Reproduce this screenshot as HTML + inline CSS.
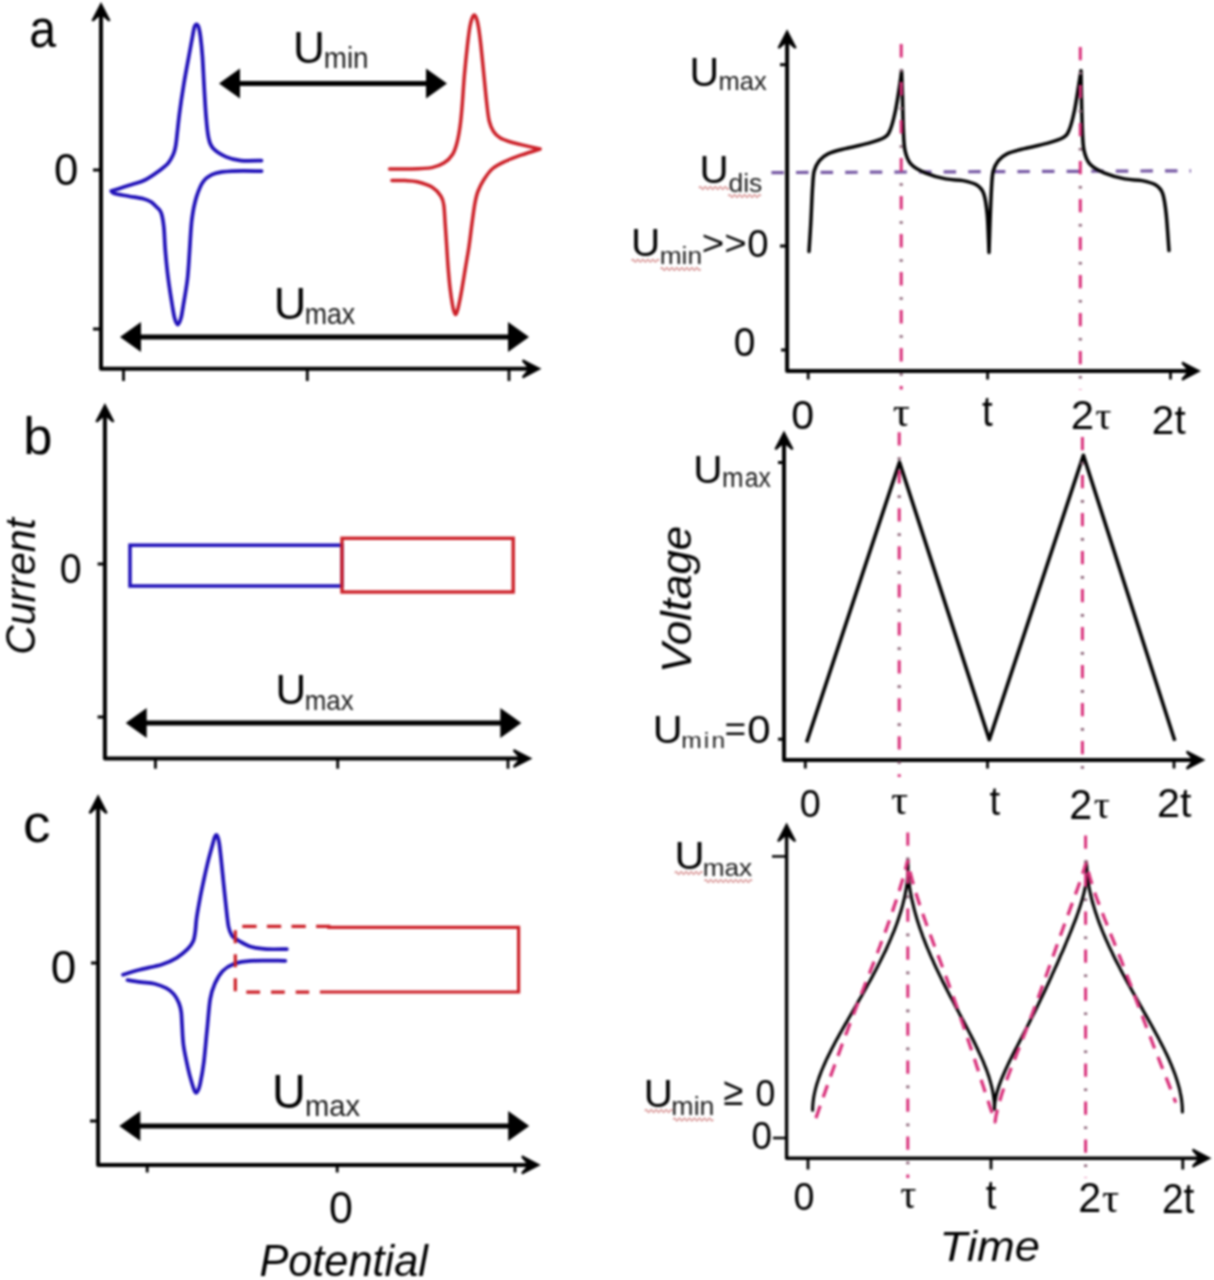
<!DOCTYPE html>
<html><head><meta charset="utf-8"><title>figure</title>
<style>html,body{margin:0;padding:0;background:#fff;}body{width:1214px;height:1280px;overflow:hidden;font-family:"Liberation Sans",sans-serif;}svg{display:block;filter:blur(1px);}</style>
</head><body>
<svg width="1214" height="1280" viewBox="0 0 1214 1280" font-family="Liberation Sans, sans-serif">
<path d="M101.0,8.5 L101.0,368.8 L535.0,368.8" fill="none" stroke="#000" stroke-width="4" stroke-linecap="butt" stroke-linejoin="round"/>
<polygon points="101.0,2.0 91.4,20.5 93.4,21.6 101.0,15.0 108.6,21.6 110.6,20.5" fill="#000"/>
<polygon points="541.5,368.8 523.0,359.2 521.9,361.2 528.5,368.8 521.9,376.4 523.0,378.4" fill="#000"/>
<line x1="93.0" y1="170.0" x2="101.0" y2="170.0" stroke="#000" stroke-width="3" />
<line x1="93.0" y1="329.0" x2="101.0" y2="329.0" stroke="#000" stroke-width="3" />
<line x1="123.5" y1="368.8" x2="123.5" y2="381.0" stroke="#000" stroke-width="2.8" />
<line x1="307.3" y1="368.8" x2="307.3" y2="381.0" stroke="#000" stroke-width="2.8" />
<line x1="509.0" y1="368.8" x2="509.0" y2="381.0" stroke="#000" stroke-width="2.8" />
<line x1="238.0" y1="83.5" x2="428.0" y2="83.5" stroke="#000" stroke-width="5" />
<polygon points="219.0,83.5 240.0,68.5 240.0,98.5" fill="#000"/>
<polygon points="447.0,83.5 426.0,68.5 426.0,98.5" fill="#000"/>
<line x1="139.0" y1="337.0" x2="510.0" y2="337.0" stroke="#000" stroke-width="5" />
<polygon points="120.0,337.0 141.0,322.0 141.0,352.0" fill="#000"/>
<polygon points="529.0,337.0 508.0,322.0 508.0,352.0" fill="#000"/>
<path d="M261.5,160.6 C258.1,160.6 246.9,161.2 241.0,160.6 C235.1,160.0 230.8,159.0 226.1,156.9 C221.4,154.8 215.7,151.2 212.8,148.0 C209.9,144.8 209.7,143.0 208.6,138.0 C207.5,133.0 206.9,126.7 206.2,118.0 C205.4,109.3 204.7,96.3 204.1,86.0 C203.5,75.7 203.0,64.3 202.4,56.0 C201.8,47.7 201.0,40.8 200.4,36.0 C199.8,31.2 199.2,28.9 198.6,27.0 C197.9,25.1 197.2,24.3 196.5,24.3 C195.8,24.3 195.1,25.1 194.4,27.0 C193.8,28.9 193.5,31.2 192.6,36.0 C191.7,40.8 190.5,47.5 189.0,55.5 C187.5,63.5 185.4,74.5 183.8,84.2 C182.2,93.9 180.6,104.5 179.4,113.9 C178.2,123.3 177.1,134.8 176.4,140.6 C175.7,146.4 175.6,146.6 175.0,149.0 C174.4,151.4 174.2,152.6 173.0,155.0 C171.8,157.4 170.6,160.4 168.1,163.2 C165.6,165.9 162.0,168.7 158.2,171.5 C154.3,174.3 149.4,177.8 145.0,180.0 C140.6,182.2 135.7,183.3 132.0,184.5 C128.3,185.7 126.6,186.2 123.1,187.3 C119.6,188.4 113.2,190.4 111.2,191.0 L111.2,191.0 C111.7,191.4 111.5,192.7 114.4,193.6 C117.3,194.5 124.0,195.3 128.8,196.2 C133.6,197.1 139.7,197.9 143.3,198.8 C147.0,199.7 148.5,200.3 150.7,201.7 C152.9,203.0 154.8,205.1 156.5,206.9 C158.2,208.7 159.9,209.4 161.1,212.7 C162.3,216.0 163.1,220.6 163.8,226.7 C164.5,232.8 164.5,240.3 165.2,249.0 C165.9,257.6 167.0,269.3 168.2,278.6 C169.4,287.9 171.1,298.4 172.2,305.0 C173.3,311.6 173.7,314.7 174.6,318.0 C175.5,321.3 176.7,324.6 177.8,324.6 C178.9,324.6 180.1,321.1 181.0,318.0 C181.9,314.9 182.1,312.6 183.2,306.0 C184.3,299.4 186.4,288.1 187.5,278.6 C188.6,269.1 189.0,258.9 189.7,249.0 C190.4,239.1 190.8,228.0 191.9,219.3 C193.0,210.7 194.4,203.5 196.4,197.1 C198.4,190.7 200.6,184.8 203.8,180.8 C207.0,176.8 210.8,174.9 215.7,173.3 C220.6,171.7 225.8,171.5 233.5,171.1 C241.2,170.7 256.9,171.1 261.6,171.1" fill="none" stroke="#1e0fb8" stroke-width="3.7" stroke-linejoin="round" stroke-linecap="round" />
<path d="M389.6,169.0 C393.0,169.0 402.6,169.2 409.7,169.0 C416.8,168.8 426.2,168.6 431.9,167.6 C437.6,166.6 440.3,165.3 443.8,163.1 C447.3,160.9 450.5,157.7 452.7,154.2 C454.9,150.7 455.9,147.0 457.1,142.3 C458.3,137.6 459.2,132.4 460.1,126.0 C461.0,119.6 461.6,112.5 462.3,103.8 C463.0,95.1 463.6,84.0 464.5,74.1 C465.4,64.2 466.6,52.5 467.5,44.5 C468.4,36.5 469.2,30.4 470.0,26.0 C470.8,21.6 471.5,19.8 472.2,18.0 C472.9,16.2 473.5,15.0 474.2,15.0 C474.9,15.0 475.6,16.2 476.3,18.0 C477.0,19.8 477.6,21.6 478.3,26.0 C479.1,30.4 479.9,36.5 480.8,44.5 C481.7,52.5 482.8,64.2 483.8,74.1 C484.8,84.0 485.9,96.0 486.8,103.8 C487.7,111.6 488.1,116.4 489.2,121.0 C490.3,125.6 491.7,128.7 493.5,131.5 C495.3,134.3 497.4,136.1 500.0,137.8 C502.6,139.5 505.5,140.4 509.0,141.5 C512.5,142.6 515.7,143.3 520.9,144.6 C526.1,145.8 536.9,148.3 540.1,149.0 L540.1,149.0 C536.9,150.0 526.6,153.2 520.9,155.2 C515.2,157.2 510.7,158.8 506.0,161.0 C501.3,163.2 496.4,165.4 492.7,168.5 C489.0,171.6 486.3,175.9 483.8,179.7 C481.3,183.5 479.4,187.6 477.9,191.5 C476.4,195.4 475.9,198.0 474.9,203.4 C473.9,208.8 472.9,216.9 471.9,224.1 C470.9,231.3 470.1,239.0 469.0,246.4 C467.9,253.8 466.5,261.2 465.3,268.6 C464.1,276.0 462.7,284.7 461.6,290.9 C460.5,297.1 459.4,302.5 458.6,306.0 C457.8,309.5 457.5,310.6 457.0,312.0 C456.5,313.4 456.1,314.6 455.6,314.6 C455.1,314.6 454.7,313.4 454.2,312.0 C453.7,310.6 453.3,309.5 452.7,306.0 C452.1,302.5 451.1,297.1 450.4,290.9 C449.6,284.7 448.8,276.0 448.2,268.6 C447.6,261.2 447.2,253.8 446.7,246.4 C446.2,239.0 445.7,231.0 445.2,224.1 C444.7,217.2 444.5,209.6 443.8,204.9 C443.1,200.2 442.8,199.0 440.8,196.0 C438.8,193.0 435.8,189.5 431.9,187.1 C427.9,184.7 421.6,182.9 417.1,181.8 C412.6,180.7 409.2,180.8 405.0,180.6 C400.8,180.4 394.1,180.4 391.9,180.4" fill="none" stroke="#cc1f27" stroke-width="3.5" stroke-linejoin="round" stroke-linecap="round" />
<path d="M104.9,409.5 L104.9,758.5 L526.0,758.5" fill="none" stroke="#000" stroke-width="4" stroke-linecap="butt" stroke-linejoin="round"/>
<polygon points="104.9,403.0 95.3,421.5 97.3,422.6 104.9,416.0 112.5,422.6 114.5,421.5" fill="#000"/>
<polygon points="532.5,758.5 514.0,748.9 512.9,750.9 519.5,758.5 512.9,766.1 514.0,768.1" fill="#000"/>
<line x1="97.6" y1="564.0" x2="105.5" y2="564.0" stroke="#000" stroke-width="3" />
<line x1="97.6" y1="717.0" x2="105.5" y2="717.0" stroke="#000" stroke-width="3" />
<line x1="155.4" y1="758.5" x2="155.4" y2="768.7" stroke="#000" stroke-width="2.8" />
<line x1="337.7" y1="758.5" x2="337.7" y2="768.7" stroke="#000" stroke-width="2.8" />
<line x1="508.0" y1="758.5" x2="508.0" y2="768.7" stroke="#000" stroke-width="2.8" />
<rect x="130" y="545.2" width="212" height="40.8" fill="none" stroke="#1e0fb8" stroke-width="3.5"/>
<rect x="342" y="538.3" width="171.2" height="53.7" fill="none" stroke="#cc1f27" stroke-width="3.4"/>
<line x1="144.7" y1="723.0" x2="502.3" y2="723.0" stroke="#000" stroke-width="5" />
<polygon points="125.7,723.0 146.7,708.0 146.7,738.0" fill="#000"/>
<polygon points="521.3,723.0 500.3,708.0 500.3,738.0" fill="#000"/>
<path d="M98.1,800.8 L98.1,1164.9 L534.3,1164.9" fill="none" stroke="#000" stroke-width="4" stroke-linecap="butt" stroke-linejoin="round"/>
<polygon points="98.1,794.3 88.5,812.8 90.5,813.9 98.1,807.3 105.7,813.9 107.7,812.8" fill="#000"/>
<polygon points="540.8,1164.9 522.3,1155.3 521.2,1157.3 527.8,1164.9 521.2,1172.5 522.3,1174.5" fill="#000"/>
<line x1="91.0" y1="963.0" x2="98.0" y2="963.0" stroke="#000" stroke-width="3" />
<line x1="90.0" y1="1121.0" x2="98.0" y2="1121.0" stroke="#000" stroke-width="3" />
<line x1="147.2" y1="1164.9" x2="147.2" y2="1172.5" stroke="#000" stroke-width="2.8" />
<line x1="337.2" y1="1164.9" x2="337.2" y2="1172.5" stroke="#000" stroke-width="2.8" />
<line x1="515.0" y1="1164.9" x2="515.0" y2="1172.5" stroke="#000" stroke-width="2.8" />
<line x1="138.3" y1="1126.0" x2="510.2" y2="1126.0" stroke="#000" stroke-width="5" />
<polygon points="119.3,1126.0 140.3,1111.0 140.3,1141.0" fill="#000"/>
<polygon points="529.2,1126.0 508.2,1111.0 508.2,1141.0" fill="#000"/>
<path d="M286.9,949.1 C283.5,949.1 272.5,949.5 266.5,949.1 C260.5,948.7 255.6,948.2 250.9,946.8 C246.2,945.4 241.4,942.3 238.3,940.5 C235.2,938.7 233.7,938.0 232.1,935.8 C230.5,933.5 229.6,932.0 228.6,927.0 C227.6,922.0 226.8,913.5 226.0,906.1 C225.2,898.7 224.3,890.4 223.5,882.6 C222.7,874.8 221.8,865.7 221.1,859.1 C220.4,852.5 219.8,846.7 219.2,843.0 C218.6,839.3 218.3,838.4 217.8,837.0 C217.3,835.6 216.9,834.9 216.4,834.9 C215.9,834.9 215.3,835.8 214.8,837.0 C214.3,838.2 214.3,838.3 213.3,842.0 C212.3,845.7 210.2,852.9 208.6,859.1 C207.0,865.4 205.3,873.0 203.9,879.5 C202.5,886.0 201.2,891.9 200.0,898.3 C198.8,904.7 197.4,912.4 196.6,918.0 C195.8,923.6 195.8,928.2 195.2,932.0 C194.6,935.8 194.5,938.2 193.3,941.0 C192.1,943.8 190.6,946.1 187.8,948.9 C185.0,951.7 181.0,955.2 176.7,957.8 C172.4,960.4 168.1,962.5 161.9,964.5 C155.7,966.5 146.2,968.0 139.7,969.7 C133.2,971.4 125.8,973.9 123.0,974.8" fill="none" stroke="#1e0fb8" stroke-width="3.7" stroke-linejoin="round" stroke-linecap="round" />
<path d="M127.4,980.0 C129.7,980.4 136.5,981.6 141.0,982.2 C145.5,982.8 150.3,982.7 154.5,983.7 C158.7,984.7 163.1,986.5 166.3,988.2 C169.5,989.9 171.7,991.6 173.8,994.1 C175.9,996.6 177.7,1000.0 178.9,1003.0 C180.1,1006.0 180.7,1008.5 181.2,1012.0 C181.7,1015.5 181.6,1018.3 182.0,1024.0 C182.4,1029.7 182.5,1038.5 183.6,1046.1 C184.7,1053.7 186.9,1063.3 188.3,1069.6 C189.7,1075.9 191.2,1080.5 192.2,1084.0 C193.2,1087.5 193.8,1089.0 194.4,1090.5 C195.1,1092.0 195.5,1093.0 196.1,1093.0 C196.7,1093.0 197.3,1092.0 198.0,1090.5 C198.7,1089.0 199.2,1088.5 200.2,1083.7 C201.2,1078.9 202.8,1070.6 203.9,1061.7 C205.0,1052.8 205.9,1040.8 207.0,1030.4 C208.1,1020.0 208.9,1006.9 210.2,999.1 C211.5,991.3 212.8,988.2 214.9,983.5 C217.0,978.8 219.6,974.3 222.7,971.0 C225.8,967.7 229.0,965.6 233.7,963.9 C238.4,962.2 242.3,961.3 250.9,960.8 C259.5,960.3 279.6,960.8 285.3,960.8" fill="none" stroke="#1e0fb8" stroke-width="3.7" stroke-linejoin="round" stroke-linecap="round" />
<path d="M327.2,927.3 L518.6,927.3 L518.6,992 L319.9,992" fill="none" stroke="#cc1f27" stroke-width="3.2" stroke-linecap="butt" stroke-linejoin="miter"/>
<line x1="242.3" y1="926.3" x2="330.5" y2="926.3" stroke="#cc1f27" stroke-width="3.2" stroke-dasharray="14.3 10.3"/>
<line x1="246.3" y1="992.1" x2="309.2" y2="992.1" stroke="#cc1f27" stroke-width="3.2" stroke-dasharray="13.8 10.9"/>
<line x1="235.3" y1="930.3" x2="235.3" y2="992.7" stroke="#cc1f27" stroke-width="3.2" stroke-dasharray="12.9 11.1"/>
<path d="M787.1,35.7 L787.1,371.1 L1194.5,371.1" fill="none" stroke="#000" stroke-width="4" stroke-linecap="butt" stroke-linejoin="round"/>
<polygon points="787.1,29.2 777.5,47.7 779.5,48.8 787.1,42.2 794.7,48.8 796.7,47.7" fill="#000"/>
<polygon points="1201.0,371.1 1182.5,361.5 1181.4,363.5 1188.0,371.1 1181.4,378.7 1182.5,380.7" fill="#000"/>
<line x1="780.0" y1="64.7" x2="787.0" y2="64.7" stroke="#000" stroke-width="3" />
<line x1="780.0" y1="246.0" x2="787.0" y2="246.0" stroke="#000" stroke-width="3" />
<line x1="781.0" y1="350.0" x2="787.0" y2="350.0" stroke="#000" stroke-width="3" />
<line x1="808.2" y1="371.1" x2="808.2" y2="379.5" stroke="#000" stroke-width="2.8" />
<line x1="987.6" y1="371.1" x2="987.6" y2="379.5" stroke="#000" stroke-width="2.8" />
<line x1="1170.5" y1="371.1" x2="1170.5" y2="379.5" stroke="#000" stroke-width="2.8" />
<line x1="771.4" y1="172.6" x2="1191.0" y2="170.8" stroke="#7557a3" stroke-width="3.2" stroke-dasharray="12.5 12.1"/>
<path d="M809.0,251.5 C809.3,246.8 810.2,233.5 810.8,223.0 C811.4,212.5 811.9,197.1 812.5,188.4 C813.1,179.7 813.1,175.6 814.2,171.0 C815.4,166.4 817.1,163.6 819.4,160.7 C821.7,157.8 823.7,155.8 828.0,153.8 C832.3,151.8 838.8,150.3 845.4,148.6 C852.0,146.9 861.3,145.3 867.8,143.4 C874.3,141.5 880.5,139.7 884.3,137.4 C888.0,135.1 888.4,134.1 890.3,129.6 C892.2,125.1 893.9,118.0 895.5,110.5 C897.1,103.0 898.8,91.2 899.8,84.6 C900.8,78.0 901.3,73.1 901.6,70.8 L901.6,70.8 C901.7,74.5 902.1,83.7 902.4,93.2 C902.7,102.7 902.9,118.3 903.3,127.8 C903.7,137.3 903.7,144.2 905.0,150.3 C906.3,156.4 907.7,160.4 911.0,164.2 C914.3,167.9 919.2,170.4 925.0,172.8 C930.8,175.2 939.4,177.6 945.7,178.9 C952.0,180.2 957.8,179.6 963.0,180.6 C968.2,181.6 973.3,182.8 976.8,185.0 C980.2,187.2 982.0,188.7 983.7,193.6 C985.4,198.5 986.3,204.5 987.2,214.3 C988.1,224.1 988.7,246.1 989.0,252.4 L989.0,252.4 C989.2,247.5 989.6,233.7 990.0,223.0 C990.4,212.3 991.0,197.1 991.5,188.4 C992.0,179.7 992.1,175.6 993.2,171.0 C994.4,166.4 996.1,163.6 998.4,160.7 C1000.7,157.8 1002.7,155.8 1007.0,153.8 C1011.3,151.8 1017.8,150.3 1024.4,148.6 C1031.0,146.9 1040.3,145.3 1046.8,143.4 C1053.3,141.5 1059.5,139.7 1063.3,137.4 C1067.0,135.1 1067.4,134.1 1069.3,129.6 C1071.2,125.1 1072.9,118.0 1074.5,110.5 C1076.1,103.0 1077.7,91.2 1078.8,84.6 C1079.9,78.0 1080.6,73.1 1081.0,70.8 L1081.0,70.8 C1081.1,74.5 1081.2,83.7 1081.4,93.2 C1081.6,102.7 1081.9,118.3 1082.3,127.8 C1082.7,137.3 1082.7,144.2 1084.0,150.3 C1085.3,156.4 1086.7,160.4 1090.0,164.2 C1093.3,167.9 1098.2,170.4 1104.0,172.8 C1109.8,175.2 1118.4,177.6 1124.7,178.9 C1131.0,180.2 1136.8,179.6 1142.0,180.6 C1147.2,181.6 1152.3,182.8 1155.8,185.0 C1159.2,187.2 1161.0,188.7 1162.7,193.6 C1164.4,198.5 1165.2,204.8 1166.2,214.3 C1167.2,223.8 1168.5,244.5 1169.0,250.5" fill="none" stroke="#000" stroke-width="3.5" stroke-linejoin="round" stroke-linecap="round" />
<path d="M784.0,437.0 L784.0,760.1 L1199.0,760.1" fill="none" stroke="#000" stroke-width="4" stroke-linecap="butt" stroke-linejoin="round"/>
<polygon points="784.0,430.5 774.4,449.0 776.4,450.1 784.0,443.5 791.6,450.1 793.6,449.0" fill="#000"/>
<polygon points="1205.5,760.1 1187.0,750.5 1185.9,752.5 1192.5,760.1 1185.9,767.7 1187.0,769.7" fill="#000"/>
<line x1="778.0" y1="462.5" x2="784.0" y2="462.5" stroke="#000" stroke-width="3" />
<line x1="778.0" y1="739.2" x2="784.0" y2="739.2" stroke="#000" stroke-width="3" />
<line x1="805.3" y1="760.1" x2="805.3" y2="768.5" stroke="#000" stroke-width="2.8" />
<line x1="987.5" y1="760.1" x2="987.5" y2="768.5" stroke="#000" stroke-width="2.8" />
<line x1="1174.0" y1="760.1" x2="1174.0" y2="768.5" stroke="#000" stroke-width="2.8" />
<path d="M806.6,742.4 L899.5,462.2 L989.3,739.6 L1083.4,455.3 L1174.8,740.7" fill="none" stroke="#000" stroke-width="3.6" stroke-linejoin="round" stroke-linecap="butt"/>
<path d="M786.6,829.0 L786.6,1158.2 L1205.0,1158.2" fill="none" stroke="#000" stroke-width="3.4" stroke-linecap="butt" stroke-linejoin="round"/>
<polygon points="786.6,822.5 777.0,841.0 779.0,842.1 786.6,835.5 794.2,842.1 796.2,841.0" fill="#000"/>
<polygon points="1211.5,1158.2 1193.0,1148.6 1191.9,1150.6 1198.5,1158.2 1191.9,1165.8 1193.0,1167.8" fill="#000"/>
<line x1="772.0" y1="856.4" x2="787.0" y2="856.4" stroke="#000" stroke-width="2.5" />
<line x1="773.0" y1="1138.0" x2="787.0" y2="1138.0" stroke="#000" stroke-width="2.5" />
<line x1="808.0" y1="1158.0" x2="808.0" y2="1169.5" stroke="#000" stroke-width="2.8" />
<line x1="991.0" y1="1158.0" x2="991.0" y2="1169.5" stroke="#000" stroke-width="2.8" />
<line x1="1182.8" y1="1158.0" x2="1182.8" y2="1169.5" stroke="#000" stroke-width="2.8" />
<path d="M812.6,1110.2 C812.6,1109.1 812.7,1105.9 812.9,1103.8 C813.1,1101.6 813.4,1099.5 813.7,1097.4 C814.1,1095.2 814.5,1093.1 815.0,1091.0 C815.5,1088.8 816.1,1086.7 816.7,1084.5 C817.4,1082.4 818.1,1080.3 818.8,1078.1 C819.6,1076.0 820.4,1073.8 821.2,1071.7 C822.1,1069.6 823.0,1067.4 823.9,1065.3 C824.9,1063.2 825.8,1061.0 826.8,1058.9 C827.9,1056.7 828.9,1054.6 830.0,1052.5 C831.0,1050.3 832.1,1048.2 833.3,1046.0 C834.4,1043.9 835.5,1041.8 836.7,1039.6 C837.9,1037.5 839.0,1035.4 840.2,1033.2 C841.4,1031.1 842.6,1028.9 843.8,1026.8 C845.1,1024.7 846.3,1022.5 847.5,1020.4 C848.7,1018.2 850.0,1016.1 851.2,1014.0 C852.4,1011.8 853.7,1009.7 854.9,1007.6 C856.1,1005.4 857.4,1003.3 858.6,1001.1 C859.8,999.0 861.0,996.9 862.3,994.7 C863.5,992.6 864.7,990.4 865.9,988.3 C867.1,986.2 868.3,984.0 869.4,981.9 C870.6,979.8 871.8,977.6 872.9,975.5 C874.1,973.3 875.2,971.2 876.3,969.1 C877.4,966.9 878.5,964.8 879.6,962.6 C880.7,960.5 881.8,958.4 882.8,956.2 C883.8,954.1 884.9,952.0 885.9,949.8 C886.9,947.7 887.8,945.5 888.8,943.4 C889.7,941.3 890.7,939.1 891.5,937.0 C892.4,934.8 893.3,932.7 894.2,930.6 C895.0,928.4 895.8,926.3 896.6,924.2 C897.4,922.0 898.1,919.9 898.8,917.7 C899.5,915.6 900.2,913.5 900.9,911.3 C901.5,909.2 902.1,907.0 902.7,904.9 C903.2,902.8 903.8,900.6 904.3,898.5 C904.8,896.4 905.2,894.2 905.6,892.1 C906.0,889.9 906.4,887.8 906.7,885.7 C907.0,883.5 907.2,881.4 907.4,879.2 C907.6,877.1 907.8,875.0 907.9,872.8 C908.0,870.7 908.1,868.6 908.0,866.4 C908.0,864.3 907.8,861.1 907.8,860.0 L907.8,860.0 C907.8,861.1 907.8,864.3 907.8,866.4 C907.8,868.5 907.9,870.7 908.1,872.8 C908.2,874.9 908.4,877.0 908.6,879.2 C908.8,881.3 909.1,883.4 909.4,885.6 C909.7,887.7 910.0,889.8 910.4,892.0 C910.8,894.1 911.2,896.2 911.6,898.4 C912.1,900.5 912.6,902.6 913.1,904.7 C913.6,906.9 914.1,909.0 914.7,911.1 C915.3,913.3 915.9,915.4 916.5,917.5 C917.1,919.7 917.8,921.8 918.5,923.9 C919.2,926.1 919.9,928.2 920.6,930.3 C921.4,932.4 922.2,934.6 922.9,936.7 C923.7,938.8 924.6,941.0 925.4,943.1 C926.2,945.2 927.1,947.4 928.0,949.5 C928.9,951.6 929.8,953.8 930.7,955.9 C931.7,958.0 932.6,960.1 933.6,962.3 C934.5,964.4 935.5,966.5 936.5,968.7 C937.5,970.8 938.5,972.9 939.6,975.1 C940.6,977.2 941.7,979.3 942.7,981.5 C943.8,983.6 944.9,985.7 945.9,987.8 C947.0,990.0 948.1,992.1 949.2,994.2 C950.3,996.4 951.4,998.5 952.6,1000.6 C953.7,1002.8 954.8,1004.9 955.9,1007.0 C957.1,1009.2 958.2,1011.3 959.3,1013.4 C960.5,1015.5 961.6,1017.7 962.7,1019.8 C963.8,1021.9 965.0,1024.1 966.1,1026.2 C967.2,1028.3 968.3,1030.5 969.4,1032.6 C970.5,1034.7 971.6,1036.9 972.7,1039.0 C973.7,1041.1 974.8,1043.2 975.8,1045.4 C976.8,1047.5 977.9,1049.6 978.8,1051.8 C979.8,1053.9 980.8,1056.0 981.7,1058.2 C982.7,1060.3 983.6,1062.4 984.4,1064.6 C985.3,1066.7 986.1,1068.8 986.9,1070.9 C987.6,1073.1 988.4,1075.2 989.1,1077.3 C989.7,1079.5 990.4,1081.6 990.9,1083.7 C991.5,1085.9 992.0,1088.0 992.5,1090.1 C992.9,1092.3 993.3,1094.4 993.6,1096.5 C993.9,1098.6 994.1,1100.8 994.3,1102.9 C994.4,1105.0 994.4,1108.2 994.4,1109.3 L994.4,1109.3 C994.5,1108.2 994.6,1105.1 994.8,1103.0 C995.1,1100.8 995.5,1098.7 995.9,1096.6 C996.4,1094.5 997.0,1092.4 997.6,1090.3 C998.2,1088.2 998.9,1086.0 999.7,1083.9 C1000.4,1081.8 1001.2,1079.7 1002.1,1077.6 C1003.0,1075.5 1003.9,1073.4 1004.8,1071.3 C1005.8,1069.1 1006.8,1067.0 1007.8,1064.9 C1008.8,1062.8 1009.8,1060.7 1010.8,1058.6 C1011.9,1056.5 1013.0,1054.3 1014.0,1052.2 C1015.1,1050.1 1016.2,1048.0 1017.3,1045.9 C1018.4,1043.8 1019.5,1041.7 1020.6,1039.5 C1021.6,1037.4 1022.7,1035.3 1023.8,1033.2 C1024.9,1031.1 1026.0,1029.0 1027.1,1026.9 C1028.2,1024.8 1029.3,1022.6 1030.3,1020.5 C1031.4,1018.4 1032.5,1016.3 1033.5,1014.2 C1034.6,1012.1 1035.6,1010.0 1036.7,1007.8 C1037.7,1005.7 1038.7,1003.6 1039.7,1001.5 C1040.8,999.4 1041.8,997.3 1042.8,995.2 C1043.8,993.0 1044.8,990.9 1045.8,988.8 C1046.8,986.7 1047.7,984.6 1048.7,982.5 C1049.7,980.4 1050.6,978.3 1051.6,976.1 C1052.5,974.0 1053.5,971.9 1054.4,969.8 C1055.4,967.7 1056.3,965.6 1057.3,963.5 C1058.2,961.3 1059.1,959.2 1060.0,957.1 C1060.9,955.0 1061.9,952.9 1062.8,950.8 C1063.7,948.7 1064.6,946.5 1065.5,944.4 C1066.4,942.3 1067.2,940.2 1068.1,938.1 C1069.0,936.0 1069.9,933.9 1070.7,931.8 C1071.6,929.6 1072.4,927.5 1073.2,925.4 C1074.1,923.3 1074.9,921.2 1075.7,919.1 C1076.5,917.0 1077.2,914.8 1078.0,912.7 C1078.7,910.6 1079.4,908.5 1080.1,906.4 C1080.8,904.3 1081.5,902.2 1082.1,900.0 C1082.7,897.9 1083.3,895.8 1083.8,893.7 C1084.3,891.6 1084.8,889.5 1085.2,887.4 C1085.6,885.3 1086.0,883.1 1086.2,881.0 C1086.5,878.9 1086.7,876.8 1086.8,874.7 C1086.9,872.6 1087.0,870.5 1086.9,868.3 C1086.8,866.2 1086.4,863.1 1086.3,862.0 L1086.3,862.0 C1086.3,863.1 1086.4,866.3 1086.6,868.4 C1086.7,870.5 1086.9,872.7 1087.2,874.8 C1087.4,877.0 1087.7,879.1 1088.0,881.2 C1088.3,883.4 1088.7,885.5 1089.1,887.6 C1089.5,889.8 1090.0,891.9 1090.5,894.1 C1091.0,896.2 1091.5,898.3 1092.0,900.5 C1092.6,902.6 1093.2,904.7 1093.9,906.9 C1094.5,909.0 1095.2,911.1 1095.9,913.3 C1096.6,915.4 1097.3,917.6 1098.1,919.7 C1098.8,921.8 1099.6,924.0 1100.5,926.1 C1101.3,928.2 1102.1,930.4 1103.0,932.5 C1103.9,934.6 1104.8,936.8 1105.7,938.9 C1106.7,941.1 1107.6,943.2 1108.6,945.3 C1109.6,947.5 1110.6,949.6 1111.6,951.7 C1112.6,953.9 1113.7,956.0 1114.7,958.2 C1115.8,960.3 1116.9,962.4 1118.0,964.6 C1119.1,966.7 1120.2,968.8 1121.3,971.0 C1122.4,973.1 1123.6,975.2 1124.7,977.4 C1125.9,979.5 1127.0,981.7 1128.2,983.8 C1129.4,985.9 1130.6,988.1 1131.8,990.2 C1133.0,992.3 1134.2,994.5 1135.4,996.6 C1136.6,998.8 1137.8,1000.9 1139.0,1003.0 C1140.2,1005.2 1141.4,1007.3 1142.6,1009.4 C1143.8,1011.6 1145.0,1013.7 1146.2,1015.8 C1147.4,1018.0 1148.6,1020.1 1149.8,1022.3 C1151.0,1024.4 1152.2,1026.5 1153.4,1028.7 C1154.5,1030.8 1155.7,1032.9 1156.8,1035.1 C1158.0,1037.2 1159.1,1039.4 1160.2,1041.5 C1161.3,1043.6 1162.4,1045.8 1163.5,1047.9 C1164.5,1050.0 1165.6,1052.2 1166.6,1054.3 C1167.6,1056.4 1168.6,1058.6 1169.5,1060.7 C1170.4,1062.9 1171.4,1065.0 1172.2,1067.1 C1173.1,1069.3 1173.9,1071.4 1174.7,1073.5 C1175.5,1075.7 1176.2,1077.8 1176.9,1079.9 C1177.6,1082.1 1178.2,1084.2 1178.8,1086.4 C1179.4,1088.5 1179.9,1090.6 1180.3,1092.8 C1180.8,1094.9 1181.2,1097.0 1181.5,1099.2 C1181.8,1101.3 1182.0,1103.5 1182.2,1105.6 C1182.3,1107.7 1182.4,1110.9 1182.4,1112.0" fill="none" stroke="#000" stroke-width="3.1" stroke-linejoin="round" stroke-linecap="round" />
<path d="M815.9,1118.1 C816.3,1117.0 817.5,1113.7 818.2,1111.5 C819.0,1109.3 819.8,1107.1 820.5,1104.9 C821.3,1102.7 822.1,1100.5 822.9,1098.2 C823.6,1096.0 824.4,1093.8 825.2,1091.6 C825.9,1089.4 826.7,1087.2 827.5,1085.0 C828.3,1082.8 829.1,1080.6 829.8,1078.4 C830.6,1076.2 831.4,1074.0 832.2,1071.8 C833.0,1069.6 833.8,1067.4 834.6,1065.2 C835.4,1063.0 836.2,1060.7 837.0,1058.5 C837.8,1056.3 838.6,1054.1 839.4,1051.9 C840.2,1049.7 841.0,1047.5 841.8,1045.3 C842.6,1043.1 843.5,1040.9 844.3,1038.7 C845.1,1036.5 845.9,1034.3 846.8,1032.1 C847.6,1029.9 848.4,1027.7 849.3,1025.4 C850.1,1023.2 850.9,1021.0 851.8,1018.8 C852.6,1016.6 853.5,1014.4 854.3,1012.2 C855.2,1010.0 856.0,1007.8 856.9,1005.6 C857.7,1003.4 858.6,1001.2 859.5,999.0 C860.3,996.8 861.2,994.6 862.0,992.4 C862.9,990.2 863.8,987.9 864.6,985.7 C865.5,983.5 866.3,981.3 867.2,979.1 C868.1,976.9 868.9,974.7 869.8,972.5 C870.6,970.3 871.5,968.1 872.4,965.9 C873.2,963.7 874.1,961.5 874.9,959.3 C875.8,957.1 876.6,954.9 877.5,952.7 C878.3,950.4 879.1,948.2 880.0,946.0 C880.8,943.8 881.6,941.6 882.4,939.4 C883.3,937.2 884.1,935.0 884.9,932.8 C885.7,930.6 886.5,928.4 887.3,926.2 C888.1,924.0 888.9,921.8 889.7,919.6 C890.4,917.4 891.2,915.1 892.0,912.9 C892.7,910.7 893.5,908.5 894.2,906.3 C895.0,904.1 895.7,901.9 896.4,899.7 C897.1,897.5 897.8,895.3 898.5,893.1 C899.2,890.9 899.9,888.7 900.5,886.5 C901.2,884.3 901.9,882.1 902.5,879.9 C903.1,877.6 903.8,875.4 904.4,873.2 C905.0,871.0 905.6,868.8 906.1,866.6 C906.7,864.4 907.5,861.1 907.8,860.0 L907.8,860.0 C908.0,861.1 908.6,864.5 909.1,866.7 C909.5,869.0 910.0,871.2 910.5,873.4 C911.1,875.7 911.6,877.9 912.2,880.2 C912.8,882.4 913.4,884.6 914.1,886.9 C914.7,889.1 915.4,891.4 916.1,893.6 C916.8,895.8 917.5,898.1 918.2,900.3 C918.9,902.5 919.7,904.8 920.4,907.0 C921.2,909.3 921.9,911.5 922.7,913.7 C923.5,916.0 924.3,918.2 925.1,920.5 C925.9,922.7 926.7,924.9 927.5,927.2 C928.4,929.4 929.2,931.7 930.0,933.9 C930.8,936.1 931.7,938.4 932.5,940.6 C933.3,942.9 934.2,945.1 935.0,947.3 C935.9,949.6 936.7,951.8 937.5,954.1 C938.4,956.3 939.2,958.5 940.1,960.8 C940.9,963.0 941.7,965.2 942.6,967.5 C943.4,969.7 944.2,972.0 945.1,974.2 C945.9,976.4 946.7,978.7 947.5,980.9 C948.3,983.2 949.2,985.4 950.0,987.6 C950.8,989.9 951.6,992.1 952.4,994.4 C953.2,996.6 954.0,998.8 954.8,1001.1 C955.6,1003.3 956.4,1005.6 957.2,1007.8 C958.0,1010.0 958.7,1012.3 959.5,1014.5 C960.3,1016.8 961.1,1019.0 961.8,1021.2 C962.6,1023.5 963.4,1025.7 964.1,1027.9 C964.9,1030.2 965.6,1032.4 966.4,1034.7 C967.1,1036.9 967.9,1039.1 968.6,1041.4 C969.4,1043.6 970.1,1045.9 970.9,1048.1 C971.6,1050.3 972.3,1052.6 973.1,1054.8 C973.8,1057.1 974.5,1059.3 975.3,1061.5 C976.0,1063.8 976.7,1066.0 977.5,1068.3 C978.2,1070.5 978.9,1072.7 979.6,1075.0 C980.4,1077.2 981.1,1079.5 981.8,1081.7 C982.5,1083.9 983.3,1086.2 984.0,1088.4 C984.7,1090.6 985.5,1092.9 986.2,1095.1 C986.9,1097.4 987.6,1099.6 988.4,1101.8 C989.1,1104.1 989.8,1106.3 990.6,1108.6 C991.3,1110.8 992.0,1113.0 992.8,1115.3 C993.5,1117.5 994.6,1120.9 995.0,1122.0 L995.0,1122.0 C995.2,1120.9 995.7,1117.6 996.1,1115.3 C996.6,1113.1 997.1,1110.9 997.6,1108.7 C998.1,1106.4 998.7,1104.2 999.4,1102.0 C1000.0,1099.8 1000.7,1097.6 1001.4,1095.3 C1002.1,1093.1 1002.8,1090.9 1003.6,1088.7 C1004.3,1086.4 1005.1,1084.2 1005.9,1082.0 C1006.7,1079.8 1007.6,1077.6 1008.4,1075.3 C1009.2,1073.1 1010.1,1070.9 1010.9,1068.7 C1011.8,1066.4 1012.7,1064.2 1013.5,1062.0 C1014.4,1059.8 1015.3,1057.6 1016.2,1055.3 C1017.0,1053.1 1017.9,1050.9 1018.8,1048.7 C1019.7,1046.4 1020.5,1044.2 1021.4,1042.0 C1022.3,1039.8 1023.2,1037.6 1024.0,1035.3 C1024.9,1033.1 1025.8,1030.9 1026.6,1028.7 C1027.5,1026.4 1028.3,1024.2 1029.2,1022.0 C1030.0,1019.8 1030.9,1017.6 1031.7,1015.3 C1032.5,1013.1 1033.4,1010.9 1034.2,1008.7 C1035.0,1006.4 1035.9,1004.2 1036.7,1002.0 C1037.5,999.8 1038.3,997.6 1039.1,995.3 C1039.9,993.1 1040.7,990.9 1041.5,988.7 C1042.3,986.4 1043.1,984.2 1043.9,982.0 C1044.7,979.8 1045.5,977.6 1046.3,975.3 C1047.1,973.1 1047.9,970.9 1048.6,968.7 C1049.4,966.4 1050.2,964.2 1051.0,962.0 C1051.8,959.8 1052.6,957.6 1053.4,955.3 C1054.2,953.1 1055.0,950.9 1055.7,948.7 C1056.5,946.4 1057.3,944.2 1058.1,942.0 C1058.9,939.8 1059.7,937.6 1060.5,935.3 C1061.3,933.1 1062.1,930.9 1062.9,928.7 C1063.7,926.4 1064.6,924.2 1065.4,922.0 C1066.2,919.8 1067.0,917.6 1067.8,915.3 C1068.6,913.1 1069.4,910.9 1070.2,908.7 C1071.1,906.4 1071.9,904.2 1072.7,902.0 C1073.5,899.8 1074.3,897.6 1075.1,895.3 C1075.9,893.1 1076.7,890.9 1077.5,888.7 C1078.3,886.4 1079.1,884.2 1079.8,882.0 C1080.6,879.8 1081.4,877.6 1082.1,875.3 C1082.8,873.1 1083.6,870.9 1084.3,868.7 C1085.0,866.4 1086.0,863.1 1086.3,862.0 L1086.3,862.0 C1086.5,863.0 1087.1,866.1 1087.5,868.2 C1088.0,870.2 1088.5,872.3 1089.1,874.3 C1089.6,876.4 1090.2,878.5 1090.8,880.5 C1091.4,882.6 1092.1,884.6 1092.7,886.7 C1093.4,888.7 1094.1,890.8 1094.8,892.9 C1095.5,894.9 1096.3,897.0 1097.0,899.0 C1097.8,901.1 1098.6,903.1 1099.3,905.2 C1100.1,907.3 1100.9,909.3 1101.7,911.4 C1102.5,913.4 1103.3,915.5 1104.1,917.5 C1104.9,919.6 1105.8,921.7 1106.6,923.7 C1107.4,925.8 1108.2,927.8 1109.0,929.9 C1109.9,931.9 1110.7,934.0 1111.5,936.1 C1112.3,938.1 1113.2,940.2 1114.0,942.2 C1114.8,944.3 1115.6,946.3 1116.4,948.4 C1117.2,950.5 1118.1,952.5 1118.9,954.6 C1119.7,956.6 1120.5,958.7 1121.3,960.7 C1122.1,962.8 1122.9,964.9 1123.7,966.9 C1124.5,969.0 1125.3,971.0 1126.1,973.1 C1126.8,975.1 1127.6,977.2 1128.4,979.3 C1129.2,981.3 1130.0,983.4 1130.8,985.4 C1131.5,987.5 1132.3,989.6 1133.1,991.6 C1133.9,993.7 1134.6,995.7 1135.4,997.8 C1136.2,999.8 1136.9,1001.9 1137.7,1004.0 C1138.5,1006.0 1139.3,1008.1 1140.0,1010.1 C1140.8,1012.2 1141.6,1014.2 1142.4,1016.3 C1143.1,1018.4 1143.9,1020.4 1144.7,1022.5 C1145.5,1024.5 1146.2,1026.6 1147.0,1028.6 C1147.8,1030.7 1148.6,1032.8 1149.4,1034.8 C1150.2,1036.9 1151.0,1038.9 1151.8,1041.0 C1152.5,1043.0 1153.3,1045.1 1154.1,1047.2 C1154.9,1049.2 1155.7,1051.3 1156.6,1053.3 C1157.4,1055.4 1158.2,1057.4 1159.0,1059.5 C1159.8,1061.6 1160.6,1063.6 1161.4,1065.7 C1162.2,1067.7 1163.0,1069.8 1163.9,1071.8 C1164.7,1073.9 1165.5,1076.0 1166.3,1078.0 C1167.1,1080.1 1167.9,1082.1 1168.7,1084.2 C1169.5,1086.2 1170.3,1088.3 1171.1,1090.4 C1171.9,1092.4 1172.7,1094.5 1173.5,1096.5 C1174.3,1098.6 1175.4,1101.7 1175.8,1102.7" fill="none" stroke="#d8307a" stroke-width="3.3" stroke-linejoin="round" stroke-dasharray="13 9" stroke-linecap="butt"/>
<line x1="901.2" y1="44.1" x2="901.2" y2="389.5" stroke="#d8307a" stroke-width="3.0" stroke-dasharray="13.3 24.7" stroke-dashoffset="-0.0"/>
<line x1="901.2" y1="44.1" x2="901.2" y2="389.5" stroke="#8c6478" stroke-width="3.2" stroke-dasharray="2.6 35.4" stroke-dashoffset="-25.1"/>
<line x1="1080.3" y1="46.9" x2="1080.3" y2="389.5" stroke="#d8307a" stroke-width="3.0" stroke-dasharray="13.3 24.7" stroke-dashoffset="-0.0"/>
<line x1="1080.3" y1="46.9" x2="1080.3" y2="389.5" stroke="#8c6478" stroke-width="3.2" stroke-dasharray="2.6 35.4" stroke-dashoffset="-25.1"/>
<line x1="899.2" y1="432.2" x2="899.2" y2="777.0" stroke="#d8307a" stroke-width="3.0" stroke-dasharray="13.3 24.7" stroke-dashoffset="-0.0"/>
<line x1="899.2" y1="432.2" x2="899.2" y2="777.0" stroke="#8c6478" stroke-width="3.2" stroke-dasharray="2.6 35.4" stroke-dashoffset="-25.1"/>
<line x1="1082.4" y1="437.0" x2="1082.4" y2="779.0" stroke="#d8307a" stroke-width="3.0" stroke-dasharray="13.3 24.7" stroke-dashoffset="0.0"/>
<line x1="1082.4" y1="437.0" x2="1082.4" y2="779.0" stroke="#8c6478" stroke-width="3.2" stroke-dasharray="2.6 35.4" stroke-dashoffset="-25.1"/>
<line x1="907.8" y1="832.5" x2="907.8" y2="1178.0" stroke="#d8307a" stroke-width="3.0" stroke-dasharray="13.3 24.7" stroke-dashoffset="-0.0"/>
<line x1="907.8" y1="832.5" x2="907.8" y2="1178.0" stroke="#8c6478" stroke-width="3.2" stroke-dasharray="2.6 35.4" stroke-dashoffset="-25.1"/>
<line x1="1085.6" y1="835.4" x2="1085.6" y2="1178.0" stroke="#d8307a" stroke-width="3.0" stroke-dasharray="13.3 24.7" stroke-dashoffset="-0.0"/>
<line x1="1085.6" y1="835.4" x2="1085.6" y2="1178.0" stroke="#8c6478" stroke-width="3.2" stroke-dasharray="2.6 35.4" stroke-dashoffset="-25.1"/>
<text transform="translate(29.27,47.48) scale(0.932,1)" font-size="51.82" font-family="Liberation Sans" font-style="normal" fill="#000" stroke="#fff" stroke-width="0.00">a</text>
<text transform="translate(54.05,184.76) scale(1.005,1)" font-size="43.52" font-family="Liberation Sans" font-style="normal" fill="#000" stroke="#fff" stroke-width="0.00">0</text>
<text transform="translate(293.06,62.56) scale(0.995,1)" font-size="44.43" font-family="Liberation Sans" font-style="normal" fill="#000" stroke="#fff" stroke-width="0.00">U</text>
<text transform="translate(323.76,68.00) scale(0.952,1)" font-size="29.18" font-family="Liberation Sans" font-style="normal" fill="#1c1c1c" stroke="#fff" stroke-width="0.00">min</text>
<text transform="translate(273.69,318.56) scale(1.015,1)" font-size="44.43" font-family="Liberation Sans" font-style="normal" fill="#000" stroke="#fff" stroke-width="0.00">U</text>
<text transform="translate(304.63,323.71) scale(0.931,1)" font-size="28.73" font-family="Liberation Sans" font-style="normal" fill="#1c1c1c" stroke="#fff" stroke-width="0.00">max</text>
<text transform="translate(23.15,453.89) scale(1.024,1)" font-size="51.22" font-family="Liberation Sans" font-style="normal" fill="#000" stroke="#fff" stroke-width="0.00">b</text>
<text transform="translate(59.82,583.28) scale(0.935,1)" font-size="42.11" font-family="Liberation Sans" font-style="normal" fill="#000" stroke="#fff" stroke-width="0.00">0</text>
<text transform="translate(34.78,654.75) rotate(-90) scale(0.973,1)" font-size="42.11" font-family="Liberation Sans" font-style="italic" fill="#000" stroke="#fff" stroke-width="0.00">Current</text>
<text transform="translate(275.40,704.08) scale(1.018,1)" font-size="41.71" font-family="Liberation Sans" font-style="normal" fill="#000" stroke="#fff" stroke-width="0.00">U</text>
<text transform="translate(304.69,709.63) scale(0.963,1)" font-size="26.91" font-family="Liberation Sans" font-style="normal" fill="#1c1c1c" stroke="#fff" stroke-width="0.00">max</text>
<text transform="translate(23.00,841.68) scale(1.056,1)" font-size="52.18" font-family="Liberation Sans" font-style="normal" fill="#000" stroke="#fff" stroke-width="0.00">c</text>
<text transform="translate(50.77,982.74) scale(1.004,1)" font-size="45.63" font-family="Liberation Sans" font-style="normal" fill="#000" stroke="#fff" stroke-width="0.00">0</text>
<text transform="translate(272.05,1107.53) scale(0.991,1)" font-size="47.29" font-family="Liberation Sans" font-style="normal" fill="#000" stroke="#fff" stroke-width="0.00">U</text>
<text transform="translate(304.96,1116.11) scale(1.015,1)" font-size="28.73" font-family="Liberation Sans" font-style="normal" fill="#1c1c1c" stroke="#fff" stroke-width="0.00">max</text>
<text transform="translate(328.98,1223.26) scale(0.974,1)" font-size="44.08" font-family="Liberation Sans" font-style="normal" fill="#000" stroke="#fff" stroke-width="0.00">0</text>
<text transform="translate(259.40,1275.95) scale(0.971,1)" font-size="44.59" font-family="Liberation Sans" font-style="italic" fill="#000" stroke="#fff" stroke-width="0.00">Potential</text>
<text transform="translate(689.52,85.79) scale(1.012,1)" font-size="40.57" font-family="Liberation Sans" font-style="normal" fill="#000" stroke="#fff" stroke-width="0.00">U</text>
<text transform="translate(718.62,89.75) scale(1.001,1)" font-size="25.45" font-family="Liberation Sans" font-style="normal" fill="#1c1c1c" stroke="#fff" stroke-width="0.00">max</text>
<text transform="translate(699.57,183.31) scale(1.023,1)" font-size="39.43" font-family="Liberation Sans" font-style="normal" fill="#000" stroke="#fff" stroke-width="0.00">U</text>
<text transform="translate(728.44,192.15) scale(1.054,1)" font-size="25.14" font-family="Liberation Sans" font-style="normal" fill="#1c1c1c" stroke="#fff" stroke-width="0.00">dis</text>
<text transform="translate(630.96,255.81) scale(1.028,1)" font-size="39.43" font-family="Liberation Sans" font-style="normal" fill="#000" stroke="#fff" stroke-width="0.00">U</text>
<text transform="translate(659.68,264.20) scale(1.080,1)" font-size="24.38" font-family="Liberation Sans" font-style="normal" fill="#1c1c1c" stroke="#fff" stroke-width="0.00">min</text>
<text transform="translate(701.71,255.15) scale(1.080,1)" font-size="35.60" font-family="Liberation Sans" font-style="normal" fill="#000" stroke="#fff" stroke-width="0.00">&gt;&gt;</text>
<text transform="translate(747.37,256.51) scale(0.983,1)" font-size="39.01" font-family="Liberation Sans" font-style="normal" fill="#000" stroke="#fff" stroke-width="0.00">0</text>
<text transform="translate(733.64,355.80) scale(0.977,1)" font-size="39.86" font-family="Liberation Sans" font-style="normal" fill="#000" stroke="#fff" stroke-width="0.00">0</text>
<text transform="translate(791.36,429.09) scale(1.005,1)" font-size="40.85" font-family="Liberation Sans" font-style="normal" fill="#000" stroke="#fff" stroke-width="0.00">0</text>
<text transform="translate(892.84,426.09) scale(1.047,1)" font-size="40.85" font-family="Liberation Serif" font-style="normal" fill="#000" stroke="#fff" stroke-width="0.00">τ</text>
<text transform="translate(981.89,426.18) scale(0.920,1)" font-size="41.97" font-family="Liberation Sans" font-style="normal" fill="#000" stroke="#fff" stroke-width="0.00">t</text>
<text transform="translate(1070.80,429.40) scale(1.031,1)" font-size="40.71" font-family="Liberation Sans" font-style="normal" fill="#000" stroke="#fff" stroke-width="0.00">2</text>
<text transform="translate(1095.22,429.03) scale(1.080,1)" font-size="37.45" font-family="Liberation Serif" font-style="normal" fill="#000" stroke="#fff" stroke-width="0.00">τ</text>
<text transform="translate(1151.87,434.10) scale(1.002,1)" font-size="40.42" font-family="Liberation Sans" font-style="normal" fill="#000" stroke="#fff" stroke-width="0.00">2t</text>
<text transform="translate(693.26,482.91) scale(1.028,1)" font-size="39.43" font-family="Liberation Sans" font-style="normal" fill="#000" stroke="#fff" stroke-width="0.00">U</text>
<text transform="translate(721.89,487.00) scale(0.943,1)" font-size="27.41" font-family="Liberation Sans" font-style="normal" fill="#1c1c1c" stroke="#fff" stroke-width="0.00">m</text>
<text transform="translate(744.78,486.73) scale(0.920,1)" font-size="26.91" font-family="Liberation Sans" font-style="normal" fill="#1c1c1c" stroke="#fff" stroke-width="0.00">ax</text>
<text transform="translate(691.12,672.95) rotate(-90) scale(1.050,1)" font-size="41.81" font-family="Liberation Sans" font-style="italic" fill="#000" stroke="#fff" stroke-width="0.00">Voltage</text>
<text transform="translate(652.69,742.61) scale(1.073,1)" font-size="38.57" font-family="Liberation Sans" font-style="normal" fill="#000" stroke="#fff" stroke-width="0.00">U</text>
<text transform="translate(681.28,747.70) scale(1.077,1)" font-size="22.88" font-family="Liberation Sans" font-style="normal" fill="#1c1c1c" stroke="#fff" stroke-width="0.00">m&#8202;i&#8202;n</text>
<text transform="translate(724.59,740.84) scale(1.080,1)" font-size="34.38" font-family="Liberation Sans" font-style="normal" fill="#000" stroke="#fff" stroke-width="0.00">=</text>
<text transform="translate(747.15,742.61) scale(1.080,1)" font-size="38.87" font-family="Liberation Sans" font-style="normal" fill="#000" stroke="#fff" stroke-width="0.00">0</text>
<text transform="translate(799.79,816.82) scale(0.984,1)" font-size="38.31" font-family="Liberation Sans" font-style="normal" fill="#000" stroke="#fff" stroke-width="0.00">0</text>
<text transform="translate(891.04,814.00) scale(1.058,1)" font-size="40.43" font-family="Liberation Serif" font-style="normal" fill="#000" stroke="#fff" stroke-width="0.00">τ</text>
<text transform="translate(989.42,814.90) scale(0.965,1)" font-size="39.85" font-family="Liberation Sans" font-style="normal" fill="#000" stroke="#fff" stroke-width="0.00">t</text>
<text transform="translate(1069.13,818.60) scale(0.987,1)" font-size="41.86" font-family="Liberation Sans" font-style="normal" fill="#000" stroke="#fff" stroke-width="0.00">2</text>
<text transform="translate(1093.66,817.93) scale(1.080,1)" font-size="37.45" font-family="Liberation Serif" font-style="normal" fill="#000" stroke="#fff" stroke-width="0.00">τ</text>
<text transform="translate(1156.94,816.90) scale(1.021,1)" font-size="40.42" font-family="Liberation Sans" font-style="normal" fill="#000" stroke="#fff" stroke-width="0.00">2t</text>
<text transform="translate(674.46,868.61) scale(1.079,1)" font-size="38.71" font-family="Liberation Sans" font-style="normal" fill="#000" stroke="#fff" stroke-width="0.00">U</text>
<text transform="translate(702.66,876.26) scale(1.077,1)" font-size="24.36" font-family="Liberation Sans" font-style="normal" fill="#1c1c1c" stroke="#fff" stroke-width="0.00">max</text>
<text transform="translate(643.67,1106.50) scale(1.020,1)" font-size="39.57" font-family="Liberation Sans" font-style="normal" fill="#000" stroke="#fff" stroke-width="0.00">U</text>
<text transform="translate(671.33,1114.80) scale(1.062,1)" font-size="25.21" font-family="Liberation Sans" font-style="normal" fill="#1c1c1c" stroke="#fff" stroke-width="0.00">min</text>
<text transform="translate(723.51,1104.90) scale(0.920,1)" font-size="39.50" font-family="Liberation Sans" font-style="normal" fill="#000" stroke="#fff" stroke-width="0.00">≥</text>
<text transform="translate(755.48,1105.83) scale(0.962,1)" font-size="37.04" font-family="Liberation Sans" font-style="normal" fill="#000" stroke="#fff" stroke-width="0.00">0</text>
<text transform="translate(751.52,1148.72) scale(0.966,1)" font-size="38.17" font-family="Liberation Sans" font-style="normal" fill="#000" stroke="#fff" stroke-width="0.00">0</text>
<text transform="translate(793.49,1209.52) scale(0.984,1)" font-size="38.31" font-family="Liberation Sans" font-style="normal" fill="#000" stroke="#fff" stroke-width="0.00">0</text>
<text transform="translate(900.19,1207.58) scale(0.951,1)" font-size="42.34" font-family="Liberation Serif" font-style="normal" fill="#000" stroke="#fff" stroke-width="0.00">τ</text>
<text transform="translate(985.82,1208.59) scale(0.924,1)" font-size="41.21" font-family="Liberation Sans" font-style="normal" fill="#000" stroke="#fff" stroke-width="0.00">t</text>
<text transform="translate(1078.13,1211.80) scale(0.990,1)" font-size="41.71" font-family="Liberation Sans" font-style="normal" fill="#000" stroke="#fff" stroke-width="0.00">2</text>
<text transform="translate(1101.95,1211.60) scale(1.080,1)" font-size="39.57" font-family="Liberation Serif" font-style="normal" fill="#000" stroke="#fff" stroke-width="0.00">τ</text>
<text transform="translate(1161.88,1213.28) scale(0.920,1)" font-size="42.39" font-family="Liberation Sans" font-style="normal" fill="#000" stroke="#fff" stroke-width="0.00">2t</text>
<text transform="translate(939.62,1261.07) scale(1.045,1)" font-size="43.38" font-family="Liberation Sans" font-style="italic" fill="#000" stroke="#fff" stroke-width="0.00">Time</text>
<path d="M699.0,188.0 Q700.25,185.40 701.50,188.00 Q702.75,190.60 704.00,188.00 Q705.25,185.40 706.50,188.00 Q707.75,190.60 709.00,188.00 Q710.25,185.40 711.50,188.00 Q712.75,190.60 714.00,188.00 Q715.25,185.40 716.50,188.00 Q717.75,190.60 719.00,188.00 Q720.25,185.40 721.50,188.00 Q722.75,190.60 724.00,188.00 Q725.25,185.40 726.50,188.00 Q727.75,190.60 729.00,188.00" fill="none" stroke="#c76464" stroke-width="1.2" opacity="0.85"/>
<path d="M728.3,196.0 Q729.55,193.40 730.80,196.00 Q732.05,198.60 733.30,196.00 Q734.55,193.40 735.80,196.00 Q737.05,198.60 738.30,196.00 Q739.55,193.40 740.80,196.00 Q742.05,198.60 743.30,196.00 Q744.55,193.40 745.80,196.00 Q747.05,198.60 748.30,196.00 Q749.55,193.40 750.80,196.00 Q752.05,198.60 753.30,196.00 Q754.55,193.40 755.80,196.00 Q757.05,198.60 758.30,196.00 Q759.55,193.40 760.80,196.00" fill="none" stroke="#c76464" stroke-width="1.2" opacity="0.85"/>
<path d="M631.6,260.7 Q632.85,258.10 634.10,260.70 Q635.35,263.30 636.60,260.70 Q637.85,258.10 639.10,260.70 Q640.35,263.30 641.60,260.70 Q642.85,258.10 644.10,260.70 Q645.35,263.30 646.60,260.70 Q647.85,258.10 649.10,260.70 Q650.35,263.30 651.60,260.70 Q652.85,258.10 654.10,260.70 Q655.35,263.30 656.60,260.70 Q657.85,258.10 659.10,260.70" fill="none" stroke="#c76464" stroke-width="1.2" opacity="0.85"/>
<path d="M660.6,269.0 Q661.85,266.40 663.10,269.00 Q664.35,271.60 665.60,269.00 Q666.85,266.40 668.10,269.00 Q669.35,271.60 670.60,269.00 Q671.85,266.40 673.10,269.00 Q674.35,271.60 675.60,269.00 Q676.85,266.40 678.10,269.00 Q679.35,271.60 680.60,269.00 Q681.85,266.40 683.10,269.00 Q684.35,271.60 685.60,269.00 Q686.85,266.40 688.10,269.00 Q689.35,271.60 690.60,269.00 Q691.85,266.40 693.10,269.00 Q694.35,271.60 695.60,269.00 Q696.85,266.40 698.10,269.00 Q699.35,271.60 700.60,269.00" fill="none" stroke="#c76464" stroke-width="1.2" opacity="0.85"/>
<path d="M674.9,873.0 Q676.15,870.40 677.40,873.00 Q678.65,875.60 679.90,873.00 Q681.15,870.40 682.40,873.00 Q683.65,875.60 684.90,873.00 Q686.15,870.40 687.40,873.00 Q688.65,875.60 689.90,873.00 Q691.15,870.40 692.40,873.00 Q693.65,875.60 694.90,873.00 Q696.15,870.40 697.40,873.00 Q698.65,875.60 699.90,873.00 Q701.15,870.40 702.40,873.00" fill="none" stroke="#c76464" stroke-width="1.2" opacity="0.85"/>
<path d="M704.5,881.0 Q705.75,878.40 707.00,881.00 Q708.25,883.60 709.50,881.00 Q710.75,878.40 712.00,881.00 Q713.25,883.60 714.50,881.00 Q715.75,878.40 717.00,881.00 Q718.25,883.60 719.50,881.00 Q720.75,878.40 722.00,881.00 Q723.25,883.60 724.50,881.00 Q725.75,878.40 727.00,881.00 Q728.25,883.60 729.50,881.00 Q730.75,878.40 732.00,881.00 Q733.25,883.60 734.50,881.00 Q735.75,878.40 737.00,881.00 Q738.25,883.60 739.50,881.00 Q740.75,878.40 742.00,881.00 Q743.25,883.60 744.50,881.00 Q745.75,878.40 747.00,881.00 Q748.25,883.60 749.50,881.00 Q750.75,878.40 752.00,881.00" fill="none" stroke="#c76464" stroke-width="1.2" opacity="0.85"/>
<path d="M644.9,1111.0 Q646.15,1108.40 647.40,1111.00 Q648.65,1113.60 649.90,1111.00 Q651.15,1108.40 652.40,1111.00 Q653.65,1113.60 654.90,1111.00 Q656.15,1108.40 657.40,1111.00 Q658.65,1113.60 659.90,1111.00 Q661.15,1108.40 662.40,1111.00 Q663.65,1113.60 664.90,1111.00 Q666.15,1108.40 667.40,1111.00 Q668.65,1113.60 669.90,1111.00 Q671.15,1108.40 672.40,1111.00" fill="none" stroke="#c76464" stroke-width="1.2" opacity="0.85"/>
<path d="M673.2,1119.5 Q674.45,1116.90 675.70,1119.50 Q676.95,1122.10 678.20,1119.50 Q679.45,1116.90 680.70,1119.50 Q681.95,1122.10 683.20,1119.50 Q684.45,1116.90 685.70,1119.50 Q686.95,1122.10 688.20,1119.50 Q689.45,1116.90 690.70,1119.50 Q691.95,1122.10 693.20,1119.50 Q694.45,1116.90 695.70,1119.50 Q696.95,1122.10 698.20,1119.50 Q699.45,1116.90 700.70,1119.50 Q701.95,1122.10 703.20,1119.50 Q704.45,1116.90 705.70,1119.50 Q706.95,1122.10 708.20,1119.50 Q709.45,1116.90 710.70,1119.50 Q711.95,1122.10 713.20,1119.50" fill="none" stroke="#c76464" stroke-width="1.2" opacity="0.85"/>
</svg>
</body></html>
